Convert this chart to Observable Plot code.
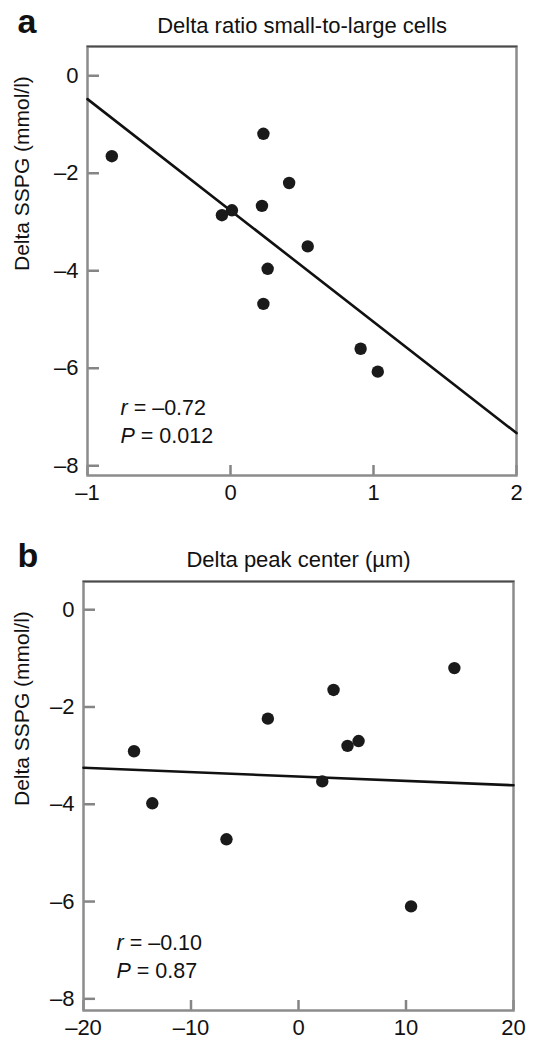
<!DOCTYPE html>
<html><head><meta charset="utf-8">
<script src="https://cdn.jsdelivr.net/npm/d3@7"></script>
<script src="https://cdn.jsdelivr.net/npm/@observablehq/plot@0.6"></script>
<style>
body{margin:0;background:#fff;}
#chart{width:536px;}
svg{display:block;}
</style></head><body><div id="chart"></div>
<script>
// Panel a: delta ratio small-to-large cells vs delta SSPG
const ratioX = [-0.83, -0.06, 0.01, 0.23, 0.22, 0.41, 0.54, 0.26, 0.23, 0.91, 1.03];
const sspgA  = [-1.65, -2.86, -2.76, -1.19, -2.67, -2.20, -3.50, -3.96, -4.68, -5.60, -6.07];
// Panel b: delta peak center vs delta SSPG
const peakX  = [-15.3, -13.6, -6.7, -2.85, 3.26, 4.56, 5.59, 2.21, 14.5, 10.47];
const sspgB  = [-2.91, -3.98, -4.72, -2.24, -1.65, -2.80, -2.70, -3.53, -1.20, -6.10];
// fitted regression lines (endpoints)
const fitAX = [-1, 2],   fitAY = [-0.48, -7.33];
const fitBX = [-20, 20], fitBY = [-3.25, -3.61];
// ticks and labels
const yTicks  = [0, -2, -4, -6, -8];
const xTicksA = [-1, 0, 1, 2];
const xTicksB = [-20, -10, 0, 10, 20];
const letters = ["a", "b"];
const titles  = ["Delta ratio small-to-large cells", "Delta peak center (µm)"];
const yLabel  = "Delta SSPG (mmol/l)";
const statsA  = ["r = –0.72", "P = 0.012"];
const statsB  = ["r = –0.10", "P = 0.87"];

const FONT = "'Liberation Sans', Arial, Helvetica, sans-serif";
const fmt = d => d < 0 ? "–" + Math.abs(d) : String(d);

function panel(o) {
  const W = 536;
  const fw = W - o.ml - o.mr, fh = o.height - o.mt - o.mb;
  const pts = o.xs.map((x, i) => ({x, y: o.ys[i]}));
  const fit = o.fx.map((x, i) => ({x, y: o.fy[i]}));
  const p = Plot.plot({
    width: W, height: o.height,
    marginTop: o.mt, marginBottom: o.mb, marginLeft: o.ml, marginRight: o.mr,
    style: {fontFamily: FONT, fontSize: "22px", color: "#111", background: "#fff"},
    x: {domain: o.xDomain, label: null},
    y: {domain: o.yDomain, label: null},
    marks: [
      Plot.axisX(o.xTicks, {tickSize: 0, tickPadding: 9, fontSize: 22, tickFormat: fmt, label: null}),
      Plot.axisY(yTicks, {tickSize: 0, tickPadding: 9, fontSize: 22, tickFormat: fmt, label: null}),
      Plot.tickY(yTicks, {y: d => d, stroke: "#858585", strokeWidth: 2.5, insetRight: fw - 12}),
      Plot.tickX(o.xTicks, {x: d => d, stroke: "#858585", strokeWidth: 2.5, insetTop: fh - 10}),
      Plot.frame({stroke: "#8c8c8c", strokeWidth: 2.5}),
      Plot.frame({anchor: "top", stroke: "#4a4a4a", strokeWidth: 1.6}),
      Plot.line(fit, {x: "x", y: "y", stroke: "#111", strokeWidth: 2.6}),
      Plot.dot(pts, {x: "x", y: "y", r: 6.2, fill: "#1a1a1a", stroke: "none"}),
      Plot.text([o.letter], {frameAnchor: "top-left", text: d => d, dx: 17 - o.ml, dy: 32 - o.mt,
        lineAnchor: "bottom", textAnchor: "start", fontSize: 34, fontWeight: "bold"}),
      Plot.text([o.title], {frameAnchor: "top", text: d => d, dy: 32 - o.mt, lineAnchor: "bottom", fontSize: 22}),
      Plot.text([yLabel], {frameAnchor: "left", text: d => d, rotate: -90, dx: 22 - o.ml, dy: 10, fontSize: 21}),
      Plot.text([o.stats.join("\n")], {frameAnchor: "bottom-left", text: d => d, dx: 33, dy: -33,
        lineAnchor: "bottom", textAnchor: "start", lineHeight: 1.26, fontSize: 21.5})
    ]
  });
  d3.select(p).selectAll("tspan").each(function() {
    const t = this.textContent;
    if (/^[rP] = /.test(t)) {
      this.textContent = "";
      d3.select(this).append("tspan").attr("font-style", "italic").text(t[0]);
      d3.select(this).append("tspan").text(t.slice(1));
    }
  });
  return p;
}

const chart = document.getElementById("chart");
chart.appendChild(panel({
  letter: letters[0], title: titles[0], xs: ratioX, ys: sspgA, fx: fitAX, fy: fitAY,
  xTicks: xTicksA, xDomain: [-1, 2], yDomain: [-8.2, 0.6], stats: statsA,
  height: 534, mt: 46, mb: 59, ml: 87, mr: 20
}));
chart.appendChild(panel({
  letter: letters[1], title: titles[1], xs: peakX, ys: sspgB, fx: fitBX, fy: fitBY,
  xTicks: xTicksB, xDomain: [-20, 20], yDomain: [-8.24, 0.58], stats: statsB,
  height: 516, mt: 47, mb: 40, ml: 83, mr: 23
}));
</script>
</body></html>
